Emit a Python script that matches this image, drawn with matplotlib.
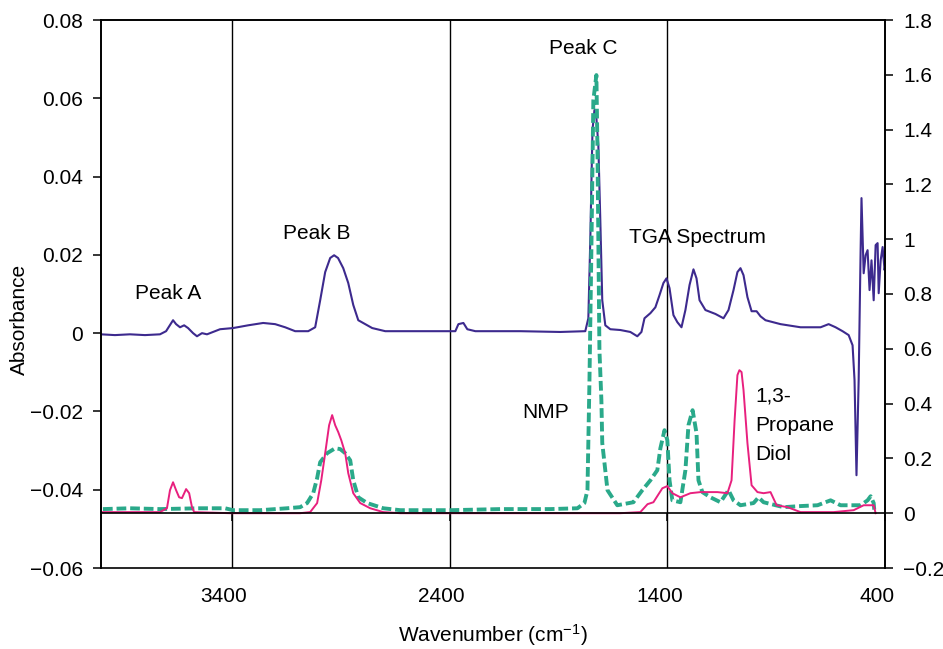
import matplotlib
matplotlib.use("Agg")
import matplotlib.pyplot as plt
import matplotlib.transforms as mtransforms

plt.rcParams['font.family'] = ['Liberation Sans', 'DejaVu Sans']
plt.rcParams['mathtext.fontset'] = 'custom'
plt.rcParams['mathtext.rm'] = 'Liberation Sans'
plt.rcParams['mathtext.it'] = 'Liberation Sans:italic'

# TGA spectrum (left axis, absorbance)
tga_wn = [4002, 3938, 3869, 3800, 3731, 3703, 3671, 3657, 3639, 3620, 3602, 3579, 3561,
          3538, 3515, 3455, 3395, 3326, 3257, 3202, 3156, 3110, 3050, 3018, 2995, 2972,
          2949, 2931, 2913, 2889, 2866, 2843, 2820, 2788, 2756, 2696, 2627, 2489, 2374,
          2360, 2337, 2319, 2282, 2075, 1892, 1777, 1763, 1754, 1744, 1735, 1726, 1717,
          1708, 1699, 1685, 1662, 1616, 1570, 1538, 1519, 1505, 1478, 1455, 1436, 1418,
          1404, 1390, 1372, 1354, 1335, 1317, 1298, 1280, 1266, 1252, 1225, 1179, 1142,
          1119, 1096, 1078, 1064, 1050, 1032, 1013, 990, 972, 949, 880, 788, 696, 659,
          627, 595, 567, 549, 540, 531, 521, 512, 508, 498, 489, 480, 471, 462, 452,
          443, 434, 429, 420, 411, 402, 397]
tga_abs = [-0.0003, -0.0005, -0.0003, -0.0005, -0.0003, 0.0005, 0.0033, 0.0023, 0.0015,
           0.0020, 0.0013, 0.0, -0.0008, 0.0, -0.0003, 0.0010, 0.0013, 0.0020, 0.0026,
           0.0023, 0.0015, 0.0005, 0.0005, 0.0015, 0.0084, 0.0156, 0.0192, 0.0199, 0.0192,
           0.0166, 0.0128, 0.0072, 0.0033, 0.0023, 0.0013, 0.0005, 0.0005, 0.0005, 0.0005,
           0.0023, 0.0026, 0.0010, 0.0005, 0.0005, 0.0003, 0.0005, 0.0038, 0.0238, 0.0518,
           0.0570, 0.0550, 0.0480, 0.0289, 0.0084, 0.0020, 0.0010, 0.0008, 0.0003, -0.0008,
           0.0003, 0.0038, 0.0051, 0.0066, 0.0097, 0.0128, 0.0140, 0.0115, 0.0046, 0.0028,
           0.0015, 0.0059, 0.0123, 0.0163, 0.0140, 0.0084, 0.0059, 0.0049, 0.0038, 0.0059,
           0.0110, 0.0156, 0.0166, 0.0148, 0.0092, 0.0056, 0.0056, 0.0043, 0.0033, 0.0023,
           0.0015, 0.0015, 0.0023, 0.0015, 0.0005, -0.0005, -0.0031, -0.0120, -0.0363,
           -0.0120, 0.0212, 0.0345, 0.0153, 0.0199, 0.0212, 0.0110, 0.0186, 0.0084, 0.0225,
           0.0230, 0.0102, 0.0186, 0.0220, 0.0161, 0.0179]

# NMP (right axis)
nmp_wn = [3993, 3869, 3731, 3547, 3432, 3395, 3271, 3147, 3087, 3055, 3027, 3009, 2995,
          2963, 2926, 2903, 2880, 2857, 2843, 2820, 2779, 2705, 2627, 2397, 2167, 1938,
          1813, 1781, 1767, 1758, 1749, 1740, 1726, 1721, 1712, 1703, 1699, 1675, 1630,
          1556, 1515, 1478, 1446, 1432, 1413, 1400, 1390, 1377, 1340, 1317, 1303, 1284,
          1266, 1257, 1239, 1202, 1156, 1119, 1096, 1064, 1004, 981, 958, 866, 788, 710,
          650, 604, 512, 480, 466, 452, 448]
nmp_val = [0.015, 0.018, 0.015, 0.018, 0.018, 0.011, 0.011, 0.018, 0.022, 0.037, 0.073,
           0.128, 0.186, 0.219, 0.237, 0.234, 0.219, 0.193, 0.120, 0.058, 0.037, 0.018,
           0.011, 0.011, 0.015, 0.015, 0.018, 0.037, 0.084, 0.475, 0.960, 1.507, 1.599,
           1.325, 0.595, 0.412, 0.256, 0.084, 0.029, 0.040, 0.084, 0.120, 0.157, 0.237,
           0.303, 0.266, 0.120, 0.047, 0.040, 0.157, 0.321, 0.376, 0.292, 0.120, 0.077,
           0.058, 0.040, 0.084, 0.047, 0.029, 0.037, 0.058, 0.040, 0.022, 0.026, 0.029,
           0.047, 0.029, 0.029, 0.047, 0.062, 0.037, 0.0]

# 1,3-Propane Diol (right axis)
pd_wn = [3993, 3731, 3699, 3685, 3671, 3657, 3643, 3630, 3611, 3597, 3584, 3574, 3409,
         3087, 3041, 3009, 2990, 2972, 2954, 2940, 2926, 2912, 2898, 2880, 2866, 2843,
         2811, 2765, 2705, 2627, 1616, 1524, 1491, 1464, 1423, 1400, 1377, 1340, 1294,
         1248, 1170, 1124, 1105, 1091, 1078, 1069, 1059, 1050, 1032, 1013, 986, 958, 926,
         898, 848, 788, 636, 544, 498, 452, 443]
pd_val = [0.004, 0.004, 0.018, 0.084, 0.113, 0.084, 0.058, 0.055, 0.088, 0.073, 0.022,
          0.004, 0.0, 0.0, 0.004, 0.037, 0.120, 0.219, 0.321, 0.358, 0.321, 0.296, 0.266,
          0.219, 0.146, 0.073, 0.037, 0.018, 0.004, 0.0, 0.0, 0.004, 0.033, 0.040, 0.091,
          0.099, 0.073, 0.058, 0.073, 0.077, 0.077, 0.073, 0.120, 0.339, 0.504, 0.522,
          0.515, 0.449, 0.256, 0.102, 0.077, 0.073, 0.077, 0.029, 0.022, 0.004, 0.004,
          0.011, 0.029, 0.029, 0.0]

x_ticks = [3400, 2400, 1400, 400]
left_ticks = [0.08, 0.06, 0.04, 0.02, 0, -0.02, -0.04, -0.06]
left_labels = ['0.08', '0.06', '0.04', '0.02', '0', '\u22120.02', '\u22120.04', '\u22120.06']
right_ticks = [1.8, 1.6, 1.4, 1.2, 1.0, 0.8, 0.6, 0.4, 0.2, 0, -0.2]
right_labels = ['1.8', '1.6', '1.4', '1.2', '1', '0.8', '0.6', '0.4', '0.2', '0', '\u22120.2']

purple = '#3d2a8e'
green = '#2aa98a'
pink = '#e8207e'
fs = 15

fig = plt.figure(figsize=(9.43, 6.49), dpi=100)
ax = fig.add_axes([101 / 943, 1 - 568 / 649, 784 / 943, 548 / 649])
ax2 = ax.twinx()

ax.plot(tga_wn, tga_abs, color=purple, lw=1.5)
ax2.plot(nmp_wn, nmp_val, color=green, lw=2.8, dashes=(2.5, 1.0))
ax2.plot(pd_wn, pd_val, color=pink, lw=1.4)

ax.set_xlim(4002, 400)
ax.set_ylim(-0.06, 0.08)
ax2.set_ylim(-0.2, 1.8)

# vertical gridlines
for xv in x_ticks[:-1]:
    ax.axvline(xv, color='black', lw=1.0, zorder=0)

for a in (ax, ax2):
    for s in a.spines.values():
        s.set_linewidth(1.2)

ax.set_yticks(left_ticks)
ax.set_yticklabels(left_labels)
ax2.set_yticks(right_ticks)
ax2.set_yticklabels(right_labels)
ax.tick_params(axis='y', direction='out', length=6, width=1.1, pad=7, labelsize=fs)
ax2.tick_params(axis='y', direction='out', length=6, width=1.1, pad=7, labelsize=fs)

ax.set_xticks(x_ticks)
ax.set_xticklabels([str(v) for v in x_ticks])
ax.tick_params(axis='x', length=0, pad=14, labelsize=fs)
for lab in ax.get_xticklabels():
    lab.set_transform(lab.get_transform() + mtransforms.ScaledTranslation(-0.08, 0, fig.dpi_scale_trans))

# x-axis line at the right-axis zero with small ticks
ax2.xaxis.set_visible(True)
ax2.spines['bottom'].set_position(('data', 0))
ax2.tick_params(axis='x', direction='out', length=6, width=1.1, labelbottom=False,
                bottom=True, top=False)

ax.set_ylabel('Absorbance', fontsize=fs)
ax.yaxis.set_label_coords(-0.092, 0.453)
ax.set_xlabel(r'Wavenumber (cm$^{\mathrm{-1}}$)', fontsize=fs)
ax.xaxis.set_label_coords(0.5, -0.098)

ax.text(3694, 0.0102, 'Peak A', fontsize=fs, ha='center', va='center')
ax.text(3013, 0.0255, 'Peak B', fontsize=fs, ha='center', va='center')
ax.text(1786, 0.0728, 'Peak C', fontsize=fs, ha='center', va='center')
ax.text(1262, 0.0245, 'TGA Spectrum', fontsize=fs, ha='center', va='center')
ax.text(1961, -0.0204, 'NMP', fontsize=fs, ha='center', va='center')
ax.text(995, -0.0235, '1,3-\nPropane\nDiol', fontsize=fs, ha='left', va='center',
        linespacing=1.7)

fig.savefig('out.png', dpi=100)
